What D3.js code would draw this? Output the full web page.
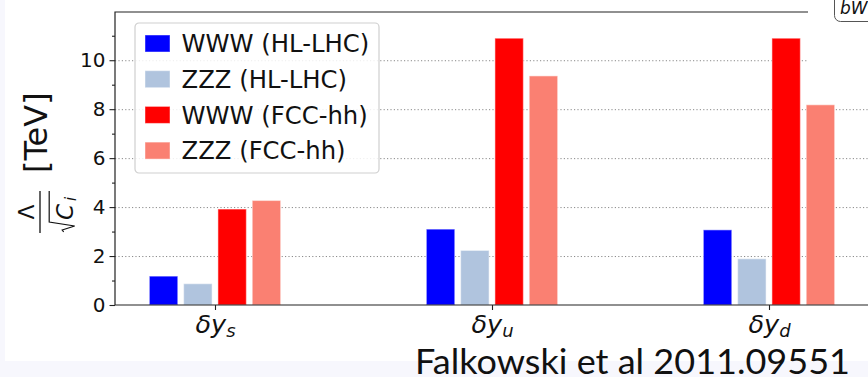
<!DOCTYPE html>
<html>
<head>
<meta charset="utf-8">
<script src="https://cdn.jsdelivr.net/npm/d3@7"></script>
<style>
  body { margin: 0; background: #f7f7fd; }
  svg { display: block; }
  .grid line { stroke: #8a8a8a; stroke-dasharray: 1.2, 2.2; stroke-width: 1; }
  .grid path { display: none; }
  .axis path { display: none; }
  .axis line { stroke: #222; stroke-width: 1.1; }
  .axis text { font-family: "DejaVu Sans", sans-serif; font-size: 20px; fill: #111; }
</style>
</head>
<body>
<script>
// data
var categories = ["s", "u", "d"];
var series = ["WWW (HL-LHC)", "ZZZ (HL-LHC)", "WWW (FCC-hh)", "ZZZ (FCC-hh)"];
var wwwHL = [1.18, 3.10, 3.07];
var zzzHL = [0.87, 2.23, 1.89];
var wwwFCC = [3.92, 10.9, 10.9];
var zzzFCC = [4.27, 9.36, 8.18];
var colors = ["#0000ff", "#b0c4de", "#ff0000", "#fa8072"];
var yTicks = [0, 2, 4, 6, 8, 10];
var yMinor = [1, 3, 5, 7, 9, 11];

var width = 868,
    height = 377;

var plotLeft = 115, plotRight = 868, plotTop = 12, plotBottom = 305;

var svg = d3.select("body").append("svg")
    .attr("width", width)
    .attr("height", height);

// page background / white plot card
svg.append("rect")
    .attr("width", width)
    .attr("height", height)
    .attr("fill", "#f7f7fd");
svg.append("rect")
    .attr("x", 5)
    .attr("width", width - 5)
    .attr("height", 361)
    .attr("fill", "#fff");

var x = d3.scalePoint()
    .domain(categories)
    .range([215, 769]);

var xInner = d3.scaleBand()
    .domain(series)
    .range([-68.6, 68.6])
    .paddingInner(0.17)
    .paddingOuter(0.085);

var y = d3.scaleLinear()
    .domain([0, 11.97])
    .range([plotBottom, plotTop]);

var values = [wwwHL, zzzHL, wwwFCC, zzzFCC];

//grid
svg.append("g")
    .attr("class", "grid")
    .attr("transform", "translate(" + plotLeft + ",0)")
    .call(d3.axisLeft(y).tickValues(yTicks.slice(1)).tickSize(-(plotRight - plotLeft)).tickFormat(""));

//bars
series.forEach(function(s, i) {
    svg.append("g")
        .selectAll("rect")
        .data(values[i])
        .enter()
        .append("rect")
        .attr("x", function(d, j) { return x(categories[j]) + xInner(s); })
        .attr("y", function(d) { return y(d); })
        .attr("width", xInner.bandwidth())
        .attr("height", function(d) { return y(0) - y(d); })
        .attr("fill", colors[i])
        .attr("stroke", "#fff")
        .attr("stroke-opacity", 0.45)
        .attr("stroke-width", 1.2);
});

//axes
svg.append("g")
    .attr("class", "axis")
    .attr("transform", "translate(" + plotLeft + ",0)")
    .call(d3.axisLeft(y).tickValues(yTicks).tickSize(5.5).tickPadding(4).tickFormat(d3.format("d")));

svg.append("g")
    .attr("class", "axis")
    .attr("transform", "translate(" + plotLeft + ",0)")
    .call(d3.axisLeft(y).tickValues(yMinor).tickSize(3).tickFormat(""));

var xAxis = svg.append("g")
    .attr("class", "axis")
    .attr("transform", "translate(0," + plotBottom + ")")
    .call(d3.axisBottom(x).tickSize(5).tickFormat(""));

xAxis.selectAll(".tick")
    .append("text")
    .attr("y", 27.5)
    .attr("text-anchor", "middle")
    .style("font-size", "25.5px")
    .style("font-style", "italic")
    .each(function(d) {
        var t = d3.select(this);
        t.append("tspan").text("δy");
        t.append("tspan").attr("dy", 4.5).style("font-size", "18px").text(d);
    });

// spines
svg.append("path")
    .attr("d", "M" + plotLeft + "," + plotBottom + "V" + plotTop + "H" + plotRight + "M" + plotLeft + "," + plotBottom + "H" + plotRight)
    .attr("fill", "none")
    .attr("stroke", "#222")
    .attr("stroke-width", 1.2);

//legend
var legend = svg.append("g")
    .attr("transform", "translate(135,23)");

legend.append("rect")
    .attr("width", 244)
    .attr("height", 150)
    .attr("rx", 4)
    .attr("fill", "#fff")
    .attr("fill-opacity", 0.85)
    .attr("stroke", "#cfcfcf")
    .attr("stroke-width", 1.2);

var item = legend.selectAll("g.item")
    .data(series)
    .enter()
    .append("g")
    .attr("class", "item")
    .attr("transform", function(d, i) { return "translate(0," + (20.5 + i * 35.7) + ")"; });

item.append("rect")
    .attr("x", 10)
    .attr("y", -8.5)
    .attr("width", 25)
    .attr("height", 17)
    .attr("fill", function(d, i) { return colors[i]; })
    .attr("stroke", "#fff")
    .attr("stroke-opacity", 0.45);

item.append("text")
    .attr("x", 46.5)
    .attr("y", 8.8)
    .style("font-family", "DejaVu Sans, sans-serif")
    .style("font-size", "24.3px")
    .attr("fill", "#111")
    .text(function(d) { return d; });

//y label, drawn rotated
var yl = svg.append("g")
    .attr("transform", "translate(46.7,233) rotate(-90)")
    .style("font-family", "DejaVu Sans, sans-serif")
    .attr("fill", "#111");

yl.append("text")
    .attr("x", 60)
    .attr("y", 0)
    .style("font-size", "32px")
    .text("[TeV]");

yl.append("line")
    .attr("x1", 0).attr("x2", 42)
    .attr("y1", -6.7).attr("y2", -6.7)
    .attr("stroke", "#111")
    .attr("stroke-width", 1.3);

yl.append("text")
    .attr("x", 21)
    .attr("y", -13)
    .attr("text-anchor", "middle")
    .style("font-size", "22px")
    .text("Λ");

yl.append("path")
    .attr("d", "M1,17 L3,15.5 L7,28 L11,2.5 L42,2.5")
    .attr("fill", "none")
    .attr("stroke", "#111")
    .attr("stroke-width", 1.2);

var den = yl.append("text")
    .attr("x", 13)
    .attr("y", 26)
    .style("font-size", "23px")
    .style("font-style", "italic");
den.append("tspan").text("C");
den.append("tspan").attr("dx", 3).attr("dy", 3).style("font-size", "15px").text("i");

// white overlay from the slide at top right
svg.append("rect")
    .attr("x", 808)
    .attr("y", 0)
    .attr("width", 60)
    .attr("height", 95)
    .attr("fill", "#fff");

svg.append("rect")
    .attr("x", 834.5)
    .attr("y", -10)
    .attr("width", 60)
    .attr("height", 31.5)
    .attr("rx", 6)
    .attr("fill", "#fff")
    .attr("stroke", "#555")
    .attr("stroke-width", 1);

svg.append("text")
    .attr("x", 840)
    .attr("y", 14)
    .style("font-family", "DejaVu Sans, sans-serif")
    .style("font-size", "17px")
    .style("font-style", "italic")
    .attr("fill", "#111")
    .text("bW");

// slide footer
svg.append("text")
    .attr("x", 415)
    .attr("y", 374)
    .attr("textLength", 435)
    .attr("lengthAdjust", "spacingAndGlyphs")
    .style("font-family", "Lato, sans-serif")
    .style("font-size", "34px")
    .attr("fill", "#111")
    .text("Falkowski et al 2011.09551");
</script>
</body>
</html>
